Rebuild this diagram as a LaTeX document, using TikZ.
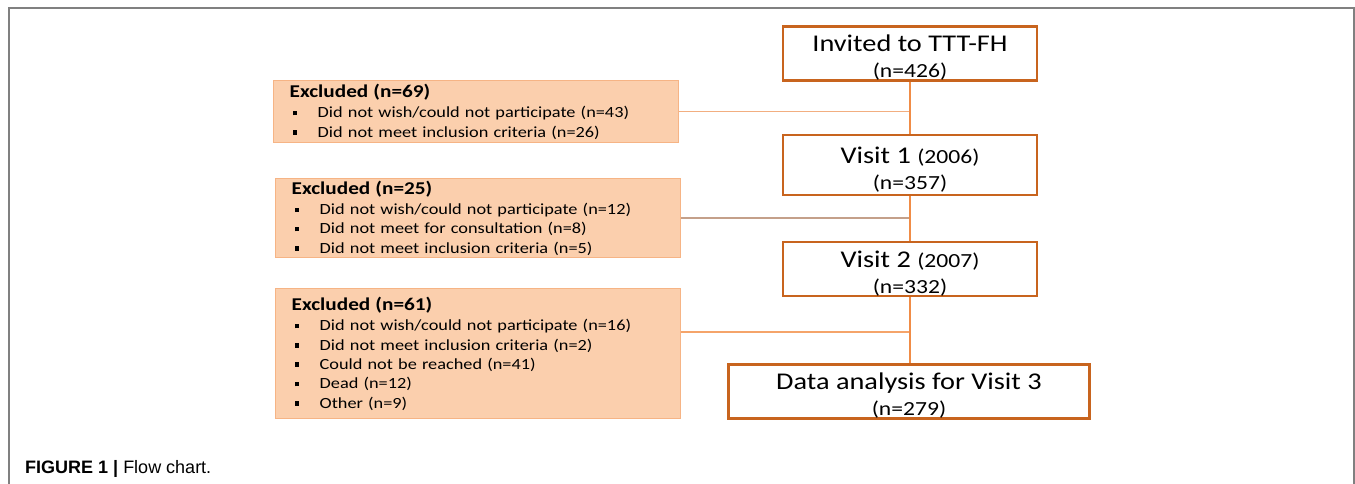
\documentclass[tikz,border=0pt]{standalone}
\usepackage{fontspec}
\usepackage{graphicx}
\setmainfont[FakeStretch=1.18]{Carlito}
\newfontfamily\capfont{Liberation Sans}
\definecolor{boxor}{HTML}{C8641E}
\definecolor{exfill}{HTML}{FBCFAD}
\definecolor{exdraw}{HTML}{F6B485}
\definecolor{vline}{HTML}{F08C46}
\definecolor{hlineA}{HTML}{F2AE80}
\definecolor{hlineB}{HTML}{C4A08A}
\definecolor{hlineC}{HTML}{F5A46A}
\definecolor{framegray}{HTML}{808080}
\newcommand{\exitem}[1]{\makebox[28pt][l]{\hspace{3pt}\rule[2.5pt]{4.5pt}{4.5pt}}#1}
\tikzset{
  mainbox/.style={draw=boxor, line width=2.6pt, fill=white, align=center, inner sep=0pt,
    font=\fontsize{24}{26}\selectfont},
  exbox/.style={draw=exdraw, line width=1.4pt, fill=exfill, anchor=north west,
    inner xsep=16pt, inner ysep=0pt, align=left, text width=373pt,
    minimum width=405pt, font=\fontsize{15.5}{19.3}\selectfont},
  vconn/.style={draw=vline, line width=2.6pt},
  hconn/.style={line width=1.6pt}
}
\newcommand{\extit}[1]{{\fontsize{18}{19}\selectfont\bfseries #1}}
\newcommand{\nsub}[1]{{\fontsize{20}{26}\selectfont #1}}
\newcommand{\tstrut}{\rule{0pt}{25pt}}
\begin{document}
\begin{tikzpicture}[x=1pt,y=-1pt]
\useasboundingbox (0,0) rectangle (1355,484);
\draw[framegray, line width=1.3pt] (9,484) -- (9,8) -- (1354,8) -- (1354,484);

% main column
\node[mainbox, minimum width=254pt, minimum height=53pt] (inv) at (910,53.5)
  {\tstrut Invited to TTT-FH\\\nsub{(n=426)}};
\node[mainbox, minimum width=254pt, minimum height=60pt] (v1) at (910,165)
  {\tstrut Visit 1 \nsub{(2006)}\\\nsub{(n=357)}};
\node[mainbox, minimum width=254pt, minimum height=52pt] (v2) at (910,269)
  {\tstrut Visit 2 \nsub{(2007)}\\\nsub{(n=332)}};
\node[mainbox, minimum width=361pt, minimum height=53pt] (data) at (909,391.5)
  {\tstrut Data analysis for Visit 3\\\nsub{(n=279)}};

% exclusion boxes
\node[exbox, minimum height=62pt] (ex1) at (273,80)
  {\extit{Excluded (n=69)}\\[1pt]
   \exitem{Did not wish/could not participate (n=43)}\\
   \exitem{Did not meet inclusion criteria (n=26)}};
\node[exbox, minimum height=79pt] (ex2) at (275,178)
  {\extit{Excluded (n=25)}\\[1pt]
   \exitem{Did not wish/could not participate (n=12)}\\
   \exitem{Did not meet for consultation (n=8)}\\
   \exitem{Did not meet inclusion criteria (n=5)}};
\node[exbox, minimum height=130pt] (ex3) at (275,288)
  {\extit{Excluded (n=61)}\\[1pt]
   \exitem{Did not wish/could not participate (n=16)}\\
   \exitem{Did not meet inclusion criteria (n=2)}\\
   \exitem{Could not be reached (n=41)}\\
   \exitem{Dead (n=12)}\\
   \exitem{Other (n=9)}};

% connectors
\coordinate (j3) at (909,332);
\draw[hconn, draw=hlineA] (ex1.east) -- (ex1.east -| inv.south);
\draw[hconn, draw=hlineB] (ex2.east) -- (ex2.east -| v1.south);
\draw[hconn, draw=hlineC] (j3 -| ex3.east) -- (j3);
\draw[vconn] (inv.south) -- (v1.north);
\draw[vconn] (v1.south) -- (v2.north);
\draw[vconn] (v2.south) -- (v2.south |- data.north);

% caption
\node[anchor=base west, inner sep=0pt, font=\capfont\fontsize{18}{20}\selectfont] (cap) at (25,473)
  {\textbf{FIGURE 1 |} Flow chart.};
\end{tikzpicture}
\end{document}
